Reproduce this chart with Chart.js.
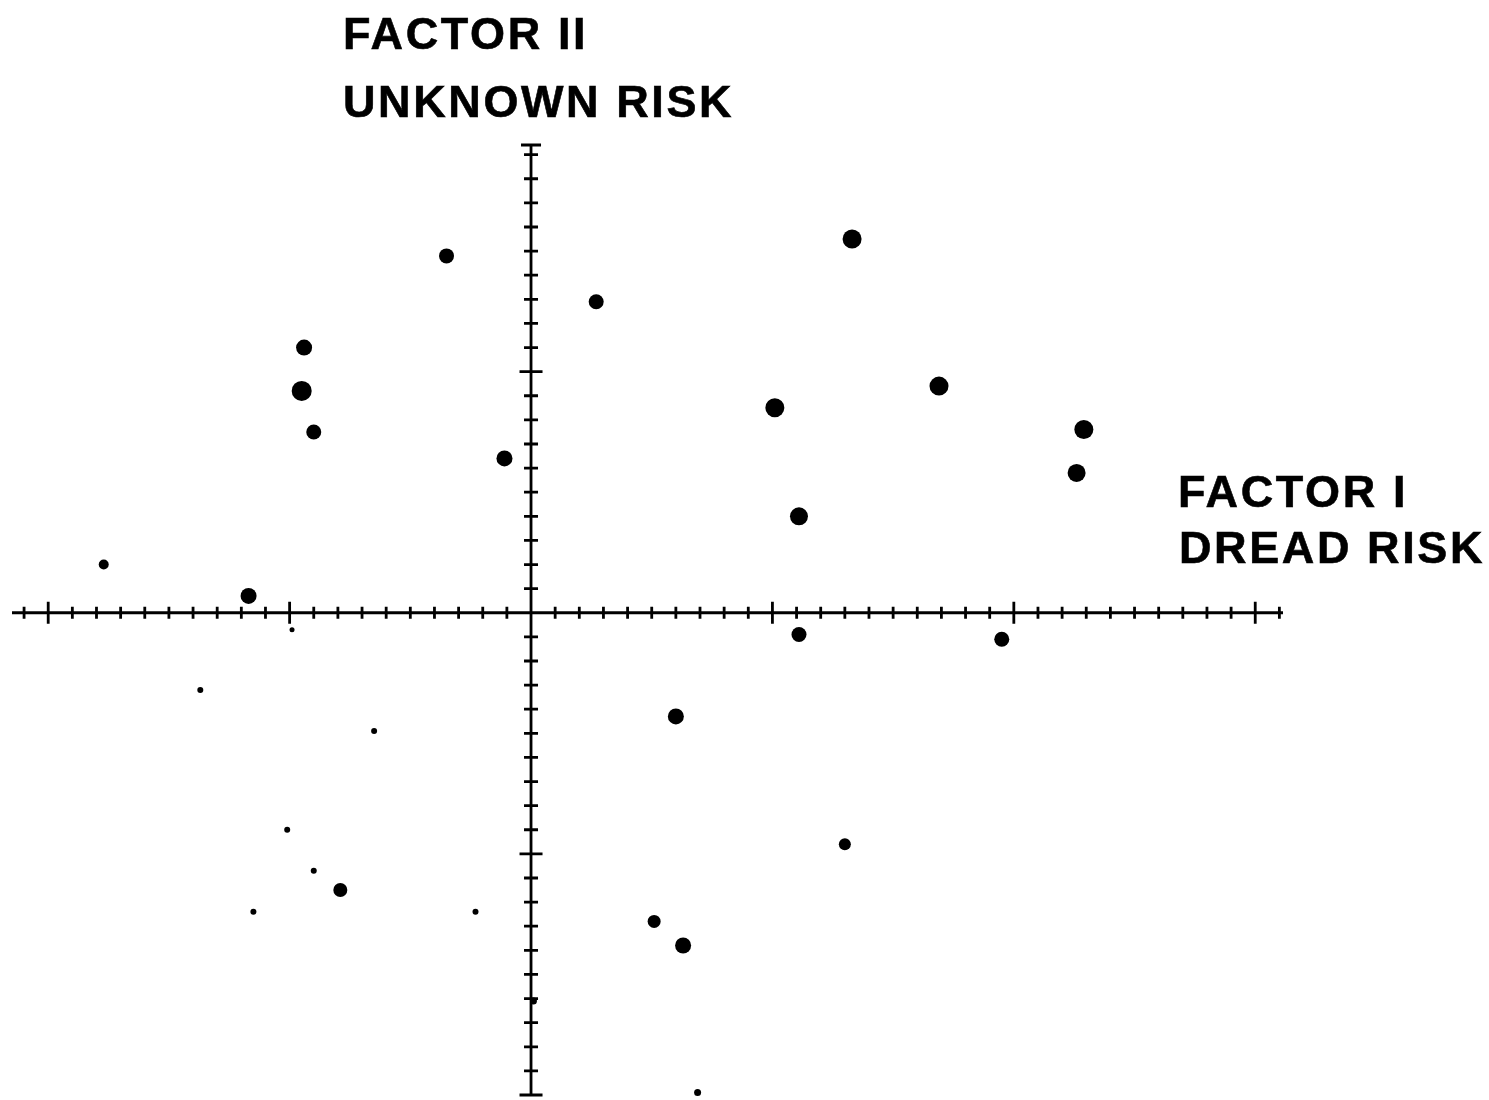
<!DOCTYPE html>
<html>
<head>
<meta charset="utf-8">
<script src="https://cdn.jsdelivr.net/npm/chart.js@4"></script>
<style>
html,body{margin:0;padding:0;background:#fff;}
#wrap{position:relative;width:1489px;height:1100px;overflow:hidden;background:#fff;}
canvas{position:absolute;left:0;top:0;}
.lbl{position:absolute;font-family:"Liberation Sans",Arial,Helvetica,sans-serif;font-weight:bold;font-size:45px;line-height:45px;letter-spacing:2.6px;color:#000;white-space:nowrap;-webkit-text-stroke:0.6px #000;}
</style>
</head>
<body>
<div id="wrap">
<canvas id="c" width="1489" height="1100"></canvas>
<div class="lbl" style="left:343px;top:11px">FACTOR II</div>
<div class="lbl" style="left:343px;top:79px">UNKNOWN RISK</div>
<div class="lbl" style="left:1178px;top:469px">FACTOR I</div>
<div class="lbl" style="left:1179px;top:525px">DREAD RISK</div>
</div>
<script>
// Factor I (dread risk) scores
const factorI = [-1.77, -1.17, -0.94, -0.95, -0.90, -0.35, -0.11, 0.27, 1.33, 1.01,
                 1.69, 2.29, 2.26, 1.11, 1.11, 1.95, 0.60, 1.30, 0.51, 0.63,
                 0.69, -0.79, -0.90, -1.01, -1.15, -0.23, -0.65, -1.37, -0.99, 0.01];
// Factor II (unknown risk) scores
const factorII = [0.20, 0.07, 1.10, 0.92, 0.75, 1.48, 0.64, 1.29, 1.55, 0.85,
                  0.94, 0.76, 0.58, 0.40, -0.09, -0.11, -0.43, -0.96, -1.28, -1.38,
                  -1.99, -1.15, -1.07, -0.90, -1.24, -1.24, -0.49, -0.32, -0.07, -1.61];
// dot size class of each point (as drawn)
const dotSize = [5, 8, 8, 10, 7.5, 7.5, 8, 7.5, 9.5, 9.5,
                 9.5, 9.5, 9, 9, 7.5, 7.5, 8, 6, 6.5, 8,
                 3.5, 7, 3, 3, 3, 3, 3, 3, 2.5, 3.5];

// axis extents and tick spacing (factor score units)
const xAxisMin = -2.15, xAxisMax = 3.115;
const yAxisMin = -2.0, yAxisMax = 1.94;
const tickStep = 0.1, majorEvery = 10;
const xTickFrom = -21, xTickTo = 31;
const yTickFrom = -20, yTickTo = 19;

const points = factorI.map((v, i) => ({x: v, y: factorII[i]}));

const crossAxes = {
  id: 'crossAxes',
  beforeDatasetsDraw(chart) {
    const {ctx, scales: {x, y}} = chart;
    const x0 = x.getPixelForValue(0), y0 = y.getPixelForValue(0);
    ctx.save();
    ctx.strokeStyle = '#000';
    ctx.lineCap = 'butt';
    ctx.lineWidth = 2.8;
    ctx.beginPath();
    ctx.moveTo(x.getPixelForValue(xAxisMin), y0);
    ctx.lineTo(x.getPixelForValue(xAxisMax), y0);
    ctx.moveTo(x0, y.getPixelForValue(yAxisMax));
    ctx.lineTo(x0, y.getPixelForValue(yAxisMin));
    ctx.stroke();
    ctx.lineWidth = 2.8;
    ctx.beginPath();
    for (let i = xTickFrom; i <= xTickTo; i++) {
      if (i === 0) continue;
      const px = x.getPixelForValue(i * tickStep);
      const h = (i % majorEvery === 0) ? 11 : 6;
      ctx.moveTo(px, y0 - h);
      ctx.lineTo(px, y0 + h);
    }
    for (let i = yTickFrom; i <= yTickTo; i++) {
      if (i === 0) continue;
      const py = y.getPixelForValue(i * tickStep);
      const h = (i % majorEvery === 0) ? 11.5 : 7;
      ctx.moveTo(x0 - h, py);
      ctx.lineTo(x0 + h, py);
    }
    const top = y.getPixelForValue(yAxisMax);
    ctx.moveTo(x0 - 10, top);
    ctx.lineTo(x0 + 10, top);
    ctx.stroke();
    ctx.restore();
  }
};

new Chart(document.getElementById('c'), {
  type: 'scatter',
  data: {
    datasets: [{
      data: points,
      backgroundColor: '#000',
      borderColor: '#000',
      borderWidth: 0,
      pointRadius: dotSize,
      pointHoverRadius: dotSize,
      clip: false
    }]
  },
  options: {
    responsive: false,
    animation: false,
    events: [],
    layout: {autoPadding: false, padding: {left: 12, right: 206, top: 145, bottom: 5}},
    plugins: {legend: {display: false}, tooltip: {enabled: false}},
    scales: {
      x: {type: 'linear', min: xAxisMin, max: xAxisMax, display: false},
      y: {type: 'linear', min: yAxisMin, max: yAxisMax, display: false}
    }
  },
  plugins: [crossAxes]
});
</script>
</body>
</html>
